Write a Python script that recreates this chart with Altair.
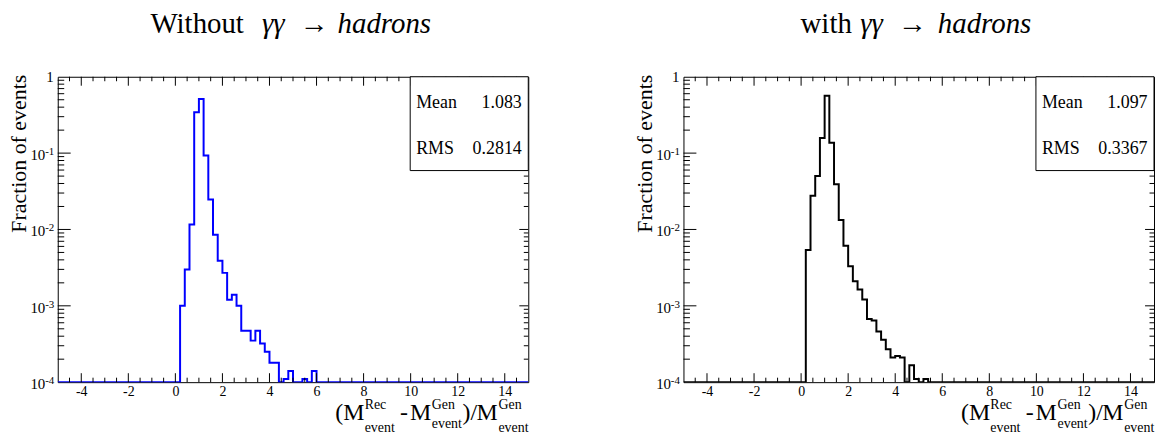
import altair as alt
import pandas as pd

# ---------------- data ----------------
X_MIN, X_MAX, BIN_W = -5.0, 15.0, 0.2
Y_MIN, Y_MAX = 1e-4, 1.0

left_bin_low = [0.2, 0.4, 0.6, 0.8, 1.0, 1.2, 1.4, 1.6, 1.8, 2.0, 2.2, 2.4, 2.6,
                2.8, 3.0, 3.2, 3.4, 3.6, 3.8, 4.0, 4.2, 4.6, 4.8, 5.4, 5.8]
left_fraction = [1.0e-3, 3.0e-3, 1.16e-2, 0.343, 0.51, 0.093, 0.0246, 0.0085, 0.0039,
                 0.0027, 0.0012, 0.0014, 0.0010, 4.7e-4, 4.7e-4, 3.5e-4, 4.7e-4, 3.2e-4,
                 2.5e-4, 1.8e-4, 1.8e-4, 1.1e-4, 1.4e-4, 1.1e-4, 1.4e-4]

right_bin_low = [0.2, 0.4, 0.6, 0.8, 1.0, 1.2, 1.4, 1.6, 1.8, 2.0, 2.2, 2.4, 2.6,
                 2.8, 3.0, 3.2, 3.4, 3.6, 3.8, 4.0, 4.2, 4.6, 4.8, 5.2]
right_fraction = [0.0054, 0.0276, 0.050, 0.158, 0.566, 0.137, 0.039, 0.0133, 0.0061,
                  0.0033, 0.0021, 0.00163, 0.00121, 6.7e-4, 6.4e-4, 4.6e-4, 3.6e-4,
                  2.7e-4, 2.1e-4, 2.2e-4, 2.1e-4, 1.66e-4, 1.1e-4, 1.1e-4]

left_stats = ["1.083", "0.2814"]
right_stats = ["1.097", "0.3367"]

x_major = [-4, -2, 0, 2, 4, 6, 8, 10, 12, 14]
x_minor = [v / 2 for v in range(-9, 30) if v % 4 != 0]
y_decades = [1.0, 1e-1, 1e-2, 1e-3, 1e-4]
y_sup = ["", "-1", "-2", "-3", "-4"]
y_minor = [m * 10.0 ** k for k in range(-4, 0) for m in range(2, 10)]

FONT = "Liberation Serif"
W, H = 473, 307


def step_df(lows, vals):
    n = int(round((X_MAX - X_MIN) / BIN_W))
    full = [0.0] * n
    for a, v in zip(lows, vals):
        full[int(round((a - X_MIN) / BIN_W))] = v
    xs = [X_MIN + i * BIN_W for i in range(n)] + [X_MAX]
    ys = [max(v, Y_MIN) for v in full] + [max(full[-1], Y_MIN)]
    return pd.DataFrame({"x": xs, "y": ys})


def xscale():
    return alt.Scale(domain=[X_MIN, X_MAX], nice=False, zero=False)


def yscale():
    return alt.Scale(type="log", domain=[Y_MIN, Y_MAX], nice=False)


XAXIS = alt.Axis(values=x_major, labelExpr="'' + datum.value", domain=False, ticks=False,
                 grid=False, labelFont=FONT, labelFontSize=14, labelPadding=2,
                 labelColor="black", title=None, labelFlush=False)

one = pd.DataFrame({"k": [0]})


def txt(s, x, y, size, italic=False, align="left", angle=None):
    kw = dict(text=s, font=FONT, fontSize=size, align=align, baseline="alphabetic", color="black")
    if italic:
        kw["fontStyle"] = "italic"
    if angle is not None:
        kw["angle"] = angle
    return alt.Chart(one).mark_text(**kw).encode(x=alt.value(x), y=alt.value(y))


def xticks(vals, y0, y1):
    return alt.Chart(pd.DataFrame({"x": vals})).mark_rule(color="black", strokeWidth=1).encode(
        x=alt.X("x:Q", scale=xscale(), axis=XAXIS), y=alt.value(y0), y2=alt.value(y1))


def yticks(vals, x0, x1):
    return alt.Chart(pd.DataFrame({"v": vals})).mark_rule(color="black", strokeWidth=1).encode(
        y=alt.Y("v:Q", scale=yscale(), axis=None), x=alt.value(x0), x2=alt.value(x1))


def panel(lows, vals, color, title_parts, stats):
    hist = alt.Chart(step_df(lows, vals)).mark_line(
        interpolate="step-after", color=color, strokeWidth=2, clip=True
    ).encode(
        x=alt.X("x:Q", scale=xscale(), axis=XAXIS),
        y=alt.Y("y:Q", scale=yscale(), axis=None),
    )
    layers = [hist]
    # inward ticks
    layers += [xticks(x_major, H, H - 9), xticks(x_minor, H, H - 4.5),
               xticks(x_major, 0, 9), xticks(x_minor, 0, 4.5)]
    layers += [yticks(y_decades[1:4], 0, 13), yticks(y_minor, 0, 6.5),
               yticks(y_decades[1:4], W, W - 9), yticks(y_minor, W, W - 4.5)]
    # y labels
    lab = pd.DataFrame({"v": y_decades[1:], "sup": y_sup[1:]})
    layers.append(alt.Chart(lab).mark_text(text="10", font=FONT, fontSize=15, align="right",
                                           baseline="alphabetic", dy=7, color="black").encode(
        y=alt.Y("v:Q", scale=yscale(), axis=None), x=alt.value(-12.5)))
    layers.append(alt.Chart(lab).mark_text(font=FONT, fontSize=11, align="right",
                                           baseline="alphabetic", dy=2, color="black").encode(
        y=alt.Y("v:Q", scale=yscale(), axis=None), x=alt.value(-3.5), text="sup:N"))
    layers.append(alt.Chart(pd.DataFrame({"v": y_decades[:1]})).mark_text(
        text="1", font=FONT, fontSize=15, align="right", baseline="alphabetic", dy=5,
        color="black").encode(y=alt.Y("v:Q", scale=yscale(), axis=None), x=alt.value(-4)))
    # y title
    layers.append(txt("Fraction of events", -31.5, -2, 22, align="right", angle=270))
    # stat box
    layers.append(alt.Chart(one).mark_rect(fill="white", stroke="black", strokeWidth=1).encode(
        x=alt.value(354.3), x2=alt.value(W), y=alt.value(0), y2=alt.value(94.3)))
    layers += [txt("Mean", 360.3, 31, 18), txt(stats[0], 466.5, 31, 18, align="right"),
               txt("RMS", 360.3, 78, 18), txt(stats[1], 466.5, 78, 18, align="right")]
    # title
    for s, x, it in title_parts:
        layers.append(txt(s, x, -44, 29, italic=it))
    # x title pieces
    layers += [txt("(M", 279, 345, 24), txt("Rec", 308.5, 334, 14), txt("event", 308.5, 357, 14),
               txt("-", 344, 345, 24), txt("M", 354, 345, 24),
               txt("Gen", 376, 334, 14), txt("event", 376, 353, 14),
               txt(")/", 407, 345, 24), txt("M", 421, 345, 24),
               txt("Gen", 443, 334, 14), txt("event", 443, 357, 14)]
    return alt.layer(*layers).properties(width=W, height=H)


left_title = [("Without", 93.3, False), ("γγ", 205.3, True), ("→", 243.3, False), ("hadrons", 281.3, True)]
right_title = [("with", 117.7, False), ("γγ", 177.7, True), ("→", 215.7, False), ("hadrons", 255.7, True)]

left = panel(left_bin_low, left_fraction, "#0000ff", left_title, left_stats)
right = panel(right_bin_low, right_fraction, "#000000", right_title, right_stats)

chart = alt.hconcat(left, right, spacing=105).properties(padding=0).configure_view(
    stroke="black", strokeWidth=1)

chart.save("out.html", embed_options={"renderer": "svg", "actions": False})
